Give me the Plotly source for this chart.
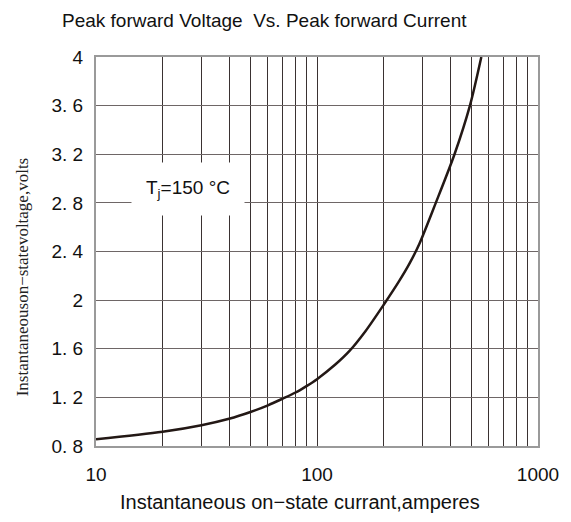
import plotly.graph_objects as go

# Data
current_a = [10, 20, 30, 40, 50, 60, 70, 80, 90, 100, 121, 140, 165, 200, 236, 262, 290, 343, 419, 492, 554]
voltage_v = [0.855, 0.917, 0.971, 1.024, 1.08, 1.135, 1.19, 1.24, 1.295, 1.35, 1.47, 1.58, 1.74, 1.96, 2.16, 2.30, 2.46, 2.79, 3.2, 3.6, 4.0]

x_tickvals = [10, 20, 30, 40, 50, 60, 70, 80, 90, 100, 200, 300, 400, 500, 600, 700, 800, 900, 1000]
x_ticktext = ["10", "", "", "", "", "", "", "", "", "100", "", "", "", "", "", "", "", "", "1000"]
y_tickvals = [0.8, 1.2, 1.6, 2.0, 2.4, 2.8, 3.2, 3.6, 4.0]
y_ticktext = ["0. 8", "1. 2", "1. 6", "2", "2. 4", "2. 8", "3. 2", "3. 6", "4"]

title_text = "Peak forward Voltage  Vs. Peak forward Current"
x_title = "Instantaneous on\u2212state currant,amperes"
y_title = "Instantaneouson\u2212statevoltage,volts"

fig = go.Figure()
fig.add_trace(go.Scatter(
    x=current_a, y=voltage_v, mode="lines",
    line=dict(color="#231815", width=2.5, shape="spline", smoothing=0.8),
    showlegend=False, hoverinfo="skip",
))

# plot area: 450 x 389 px
PW, PH = 450, 389

fig.update_layout(
    width=563, height=514,
    margin=dict(l=88, r=25, t=49, b=76),
    paper_bgcolor="white", plot_bgcolor="white",
    font=dict(family="Liberation Sans, Arial, sans-serif", size=19, color="#111111"),
    xaxis=dict(
        type="log", range=[1, 3],
        tickmode="array", tickvals=x_tickvals, ticktext=x_ticktext,
        showgrid=True, gridcolor="#3a3232", gridwidth=1.2,
        showline=True, linecolor="#9a9a9a", linewidth=2, mirror=True,
        ticks="", ticklabelstandoff=10, zeroline=False,
        tickfont=dict(size=19),
    ),
    yaxis=dict(
        range=[0.8, 4.0],
        tickmode="array", tickvals=y_tickvals, ticktext=y_ticktext,
        showgrid=True, gridcolor="#6e6666", gridwidth=1.2,
        showline=True, linecolor="#9a9a9a", linewidth=2, mirror=True,
        ticks="", ticklabelstandoff=7, zeroline=False,
        tickfont=dict(size=19),
    ),
    annotations=[
        dict(text=title_text, xref="paper", yref="paper",
             x=(268 - 96) / PW, y=1 + (57 - 20) / PH,
             xanchor="center", yanchor="middle", showarrow=False,
             font=dict(size=19, color="#111111")),
        dict(text=x_title, xref="paper", yref="paper",
             x=(304 - 96) / PW, y=-(502 - 446) / PH,
             xanchor="center", yanchor="middle", showarrow=False,
             font=dict(size=20, color="#111111")),
        dict(text=y_title, xref="paper", yref="paper",
             x=-(96 - 21) / PW, y=(446 - 277) / PH, textangle=-90,
             xanchor="center", yanchor="middle", showarrow=False,
             font=dict(family="Liberation Serif, Times New Roman, serif", size=17, color="#222222")),
        dict(text="T<sub>j</sub>=150 °C", xref="paper", yref="paper",
             x=(190 - 96) / PW, y=(446 - 189) / PH,
             xanchor="center", yanchor="middle", showarrow=False,
             bgcolor="white", borderpad=14,
             font=dict(size=19, color="#111111")),
    ],
)

fig.write_html("out.html")
